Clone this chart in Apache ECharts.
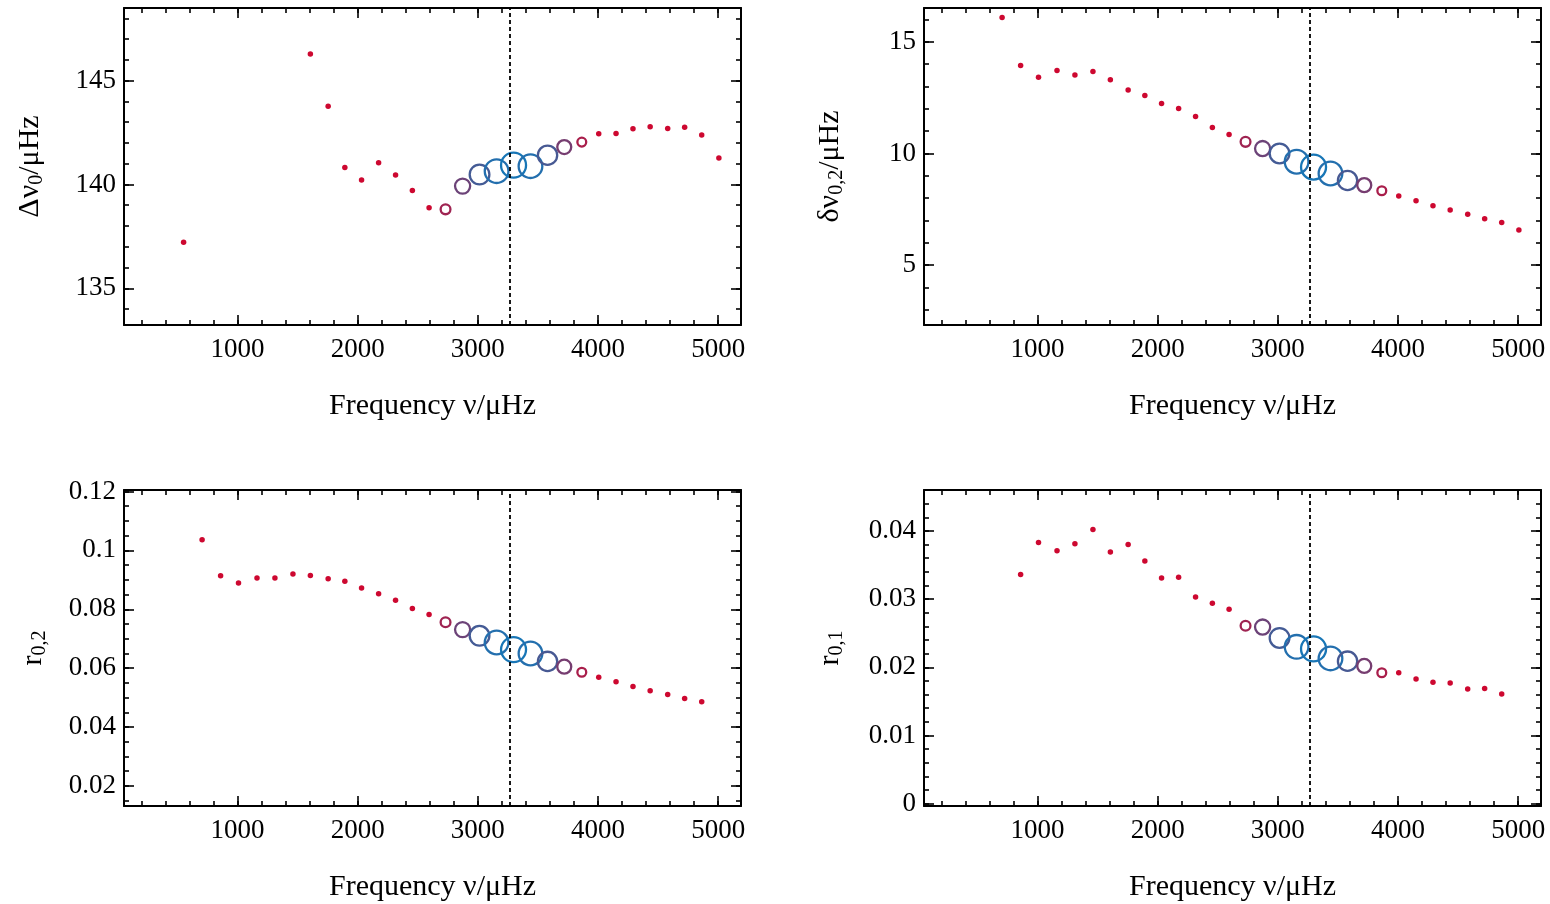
<!DOCTYPE html>
<html><head><meta charset="utf-8">
<script src="https://cdn.jsdelivr.net/npm/echarts@6/dist/echarts.min.js"></script>
<style>html,body{margin:0;padding:0;background:#fff}#c{width:1550px;height:904px}</style>
</head><body><div id="c"></div>
<script>
// ---------------- data ----------------
const freq = [551, 705, 859, 1008, 1162, 1311, 1461, 1606, 1754, 1893, 2032, 2174, 2315, 2455, 2594, 2731,
              2873, 3014, 3156, 3297, 3438, 3580, 3719, 3865, 4006, 4150, 4291, 4434, 4580, 4721, 4863, 5006];
// relative weight of each mode (shown by symbol size / colour)
const weight = [0, 0, 0, 0, 0, 0, 0, 0, 0, 0, 0, 0, 0, 0, 0, 0.2,
                0.48, 0.72, 0.93, 1.0, 0.93, 0.7, 0.42, 0.15, 0, 0, 0, 0, 0, 0, 0, 0];
const dnu0 = [137.22, null, null, null, null, null, null, 146.29, 143.77, 140.82, 140.22, 141.04, 140.45, 139.71, 138.88, 138.80,
              139.92, 140.48, 140.64, 140.93, 140.88, 141.41, 141.80, 142.04, 142.44, 142.46, 142.68, 142.78, 142.70, 142.76, 142.38, 141.27];
const d02 = [null, 16.09, 13.94, 13.42, 13.72, 13.52, 13.67, 13.30, 12.84, 12.60, 12.24, 12.01, 11.66, 11.16, 10.85, 10.52,
             10.22, 10.00, 9.63, 9.39, 9.10, 8.79, 8.58, 8.33, 8.09, 7.88, 7.66, 7.46, 7.27, 7.07, 6.90, 6.57];
const r02 = [null, 0.1036, 0.0914, 0.0889, 0.0906, 0.0906, 0.0920, 0.0915, 0.0904, 0.0895, 0.0872, 0.0853, 0.0831, 0.0803, 0.0782, 0.0756,
             0.0731, 0.0710, 0.0687, 0.0663, 0.0650, 0.0623, 0.0605, 0.0586, 0.0569, 0.0554, 0.0538, 0.0523, 0.0511, 0.0497, 0.0486, null];
const r01 = [null, null, 0.0336, 0.0383, 0.0371, 0.0381, 0.0402, 0.0369, 0.0380, 0.0356, 0.0331, 0.0332, 0.0303, 0.0294, 0.0285, 0.0261,
             0.0259, 0.0243, 0.0230, 0.0227, 0.0213, 0.0209, 0.0202, 0.0192, 0.0192, 0.0183, 0.0178, 0.0177, 0.0168, 0.0169, 0.0161, null];
const numax = 3262;

// tick values
const xMajor = [1000, 2000, 3000, 4000, 5000];
const xMinor = [200, 400, 600, 800, 1000, 1200, 1400, 1600, 1800, 2000, 2200, 2400, 2600, 2800, 3000, 3200, 3400, 3600, 3800, 4000, 4200, 4400, 4600, 4800, 5000];
const yMajorDnu = [135, 140, 145];
const yMinorDnu = [134, 135, 136, 137, 138, 139, 140, 141, 142, 143, 144, 145, 146, 147, 148];
const yMajorD02 = [5, 10, 15];
const yMinorD02 = [3, 4, 5, 6, 7, 8, 9, 10, 11, 12, 13, 14, 15, 16];
const yMajorR02 = [0.02, 0.04, 0.06, 0.08, 0.1, 0.12];
const yMinorR02 = [0.015, 0.02, 0.025, 0.03, 0.035, 0.04, 0.045, 0.05, 0.055, 0.06, 0.065, 0.07, 0.075, 0.08, 0.085, 0.09, 0.095, 0.1, 0.105, 0.11, 0.115, 0.12];
const yMajorR01 = [0, 0.01, 0.02, 0.03, 0.04];
const yMinorR01 = [0, 0.002, 0.004, 0.006, 0.008, 0.01, 0.012, 0.014, 0.016, 0.018, 0.02, 0.022, 0.024, 0.026, 0.028, 0.03, 0.032, 0.034, 0.036, 0.038, 0.04, 0.042, 0.044];

// ---------------- styling ----------------
const FONT = 'Liberation Serif';
const RED = [205, 8, 48], BLUE = [24, 118, 182];
function colorOf(w) {
  const t = Math.pow(w, 0.85);
  const c = RED.map((r, k) => Math.round(r + (BLUE[k] - r) * t));
  return 'rgb(' + c.join(',') + ')';
}
function seriesData(vals) {
  const out = [];
  freq.forEach((f, i) => {
    if (vals[i] == null) return;
    const w = weight[i];
    const col = colorOf(w);
    out.push({
      value: [f, vals[i]],
      symbolSize: w > 0 ? 6 + 19 * w : 5.5,
      itemStyle: w > 0 ? { color: 'rgba(0,0,0,0)', borderColor: col, borderWidth: 2.3, opacity: 1 }
                       : { color: col, borderWidth: 0, opacity: 1 }
    });
  });
  return out;
}

const panels = [
  { left: 124, top: 8, height: 317, ymin: 133.23, ymax: 148.5, yMaj: yMajorDnu, yMin: yMinorDnu, vals: dnu0,
    yName: '{n|Δν}{s|0}{n|/μHz}', yGap: 77 },
  { left: 924, top: 8, height: 317, ymin: 2.31, ymax: 16.52, yMaj: yMajorD02, yMin: yMinorD02, vals: d02,
    yName: '{n|δν}{s|0,2}{n|/μHz}', yGap: 77 },
  { left: 124, top: 490, height: 316, ymin: 0.0132, ymax: 0.1205, yMaj: yMajorR02, yMin: yMinorR02, vals: r02,
    yName: '{n|r}{s|0,2}', yGap: 74 },
  { left: 924, top: 490, height: 316, ymin: -0.00034, ymax: 0.046, yMaj: yMajorR01, yMin: yMinorR01, vals: r01,
    yName: '{n|r}{s|0,1}', yGap: 77 }
];

const grid = [], xAxis = [], yAxis = [], series = [];
const lineBlack = { color: '#000', width: 2 };
const tickStyle = { color: '#000', width: 1.6 };
const plain = v => String(v);
panels.forEach((p, gi) => {
  grid.push({ left: p.left, top: p.top, width: 617, height: p.height, containLabel: false, outerBoundsMode: 'none' });
  const xBase = { gridIndex: gi, type: 'value', min: 55, max: 5190, splitLine: { show: false } };
  xAxis.push(Object.assign({}, xBase, {
    position: 'bottom',
    axisLine: { show: true, onZero: false, lineStyle: lineBlack },
    axisTick: { show: true, inside: true, length: 10, customValues: xMajor, lineStyle: tickStyle },
    axisLabel: { show: true, customValues: xMajor, formatter: plain, margin: 11, fontFamily: FONT, fontSize: 27, color: '#000' },
    name: 'Frequency ν/μHz', nameLocation: 'middle', nameGap: 64,
    nameTextStyle: { fontFamily: FONT, fontSize: 30, color: '#000', lineHeight: 34 }
  }));
  xAxis.push(Object.assign({}, xBase, {
    position: 'bottom', axisLine: { show: false, onZero: false },
    axisTick: { show: true, inside: true, length: 5, customValues: xMinor, lineStyle: tickStyle },
    axisLabel: { show: false }
  }));
  xAxis.push(Object.assign({}, xBase, {
    position: 'top', axisLine: { show: true, onZero: false, lineStyle: lineBlack },
    axisTick: { show: true, inside: true, length: 10, customValues: xMajor, lineStyle: tickStyle },
    axisLabel: { show: false }
  }));
  xAxis.push(Object.assign({}, xBase, {
    position: 'top', axisLine: { show: false, onZero: false },
    axisTick: { show: true, inside: true, length: 5, customValues: xMinor, lineStyle: tickStyle },
    axisLabel: { show: false }
  }));
  const yBase = { gridIndex: gi, type: 'value', min: p.ymin, max: p.ymax, splitLine: { show: false } };
  yAxis.push(Object.assign({}, yBase, {
    position: 'left',
    axisLine: { show: true, onZero: false, lineStyle: lineBlack },
    axisTick: { show: true, inside: true, length: 10, customValues: p.yMaj, lineStyle: tickStyle },
    axisLabel: { show: true, customValues: p.yMaj, formatter: plain, margin: 8, fontFamily: FONT, fontSize: 27, color: '#000' },
    name: p.yName, nameLocation: 'middle', nameRotate: 90, nameGap: p.yGap,
    nameTextStyle: {
      rich: {
        n: { fontFamily: FONT, fontSize: 30, color: '#000', lineHeight: 34 },
        s: { fontFamily: FONT, fontSize: 20, color: '#000', lineHeight: 34, padding: [14, 0, 0, 0] }
      }
    }
  }));
  yAxis.push(Object.assign({}, yBase, {
    position: 'left', axisLine: { show: false, onZero: false },
    axisTick: { show: true, inside: true, length: 5, customValues: p.yMin, lineStyle: tickStyle },
    axisLabel: { show: false }
  }));
  yAxis.push(Object.assign({}, yBase, {
    position: 'right', axisLine: { show: true, onZero: false, lineStyle: lineBlack },
    axisTick: { show: true, inside: true, length: 10, customValues: p.yMaj, lineStyle: tickStyle },
    axisLabel: { show: false }
  }));
  yAxis.push(Object.assign({}, yBase, {
    position: 'right', axisLine: { show: false, onZero: false },
    axisTick: { show: true, inside: true, length: 5, customValues: p.yMin, lineStyle: tickStyle },
    axisLabel: { show: false }
  }));
  series.push({
    type: 'scatter', xAxisIndex: gi * 4, yAxisIndex: gi * 4,
    symbol: 'circle', data: seriesData(p.vals), silent: true,
    itemStyle: { opacity: 1 },
    markLine: {
      silent: true, symbol: 'none', label: { show: false },
      lineStyle: { color: '#000', type: [4, 3], width: 1.8 },
      data: [{ xAxis: numax }]
    }
  });
});

const chart = echarts.init(document.getElementById('c'), null, { renderer: 'canvas' });
chart.setOption({ animation: false, backgroundColor: '#fff', grid, xAxis, yAxis, series });
</script>
</body></html>
